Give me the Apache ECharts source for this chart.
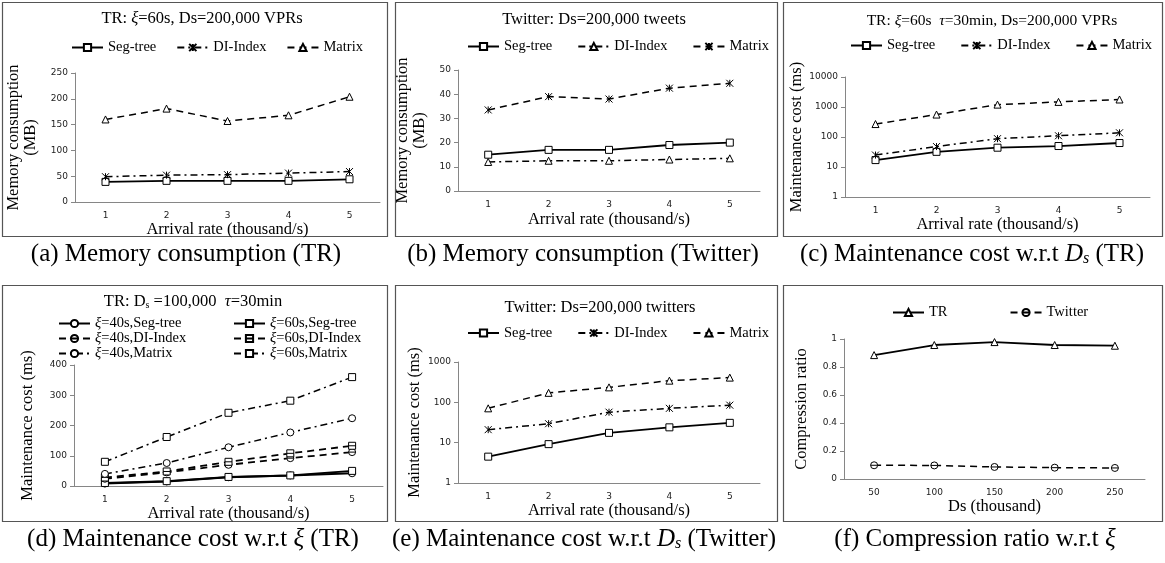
<!DOCTYPE html>
<html>
<head>
<meta charset="utf-8">
<script src="https://cdn.jsdelivr.net/npm/echarts@6/dist/echarts.min.js"></script>
<style>
html,body{margin:0;padding:0;background:#fff}
#main{width:1165px;height:563px}
</style>
</head>
<body>
<div id="main"></div>
<script>
// x categories
var rateCats = ['1', '2', '3', '4', '5'];
var dsCats = ['50', '100', '150', '200', '250'];

// (a) memory consumption, TR (MB)
var memTRSeg = [39, 41, 41, 41, 44];
var memTRDI = [49, 52, 53, 56, 59];
var memTRMatrix = [160, 181, 157, 168, 204];

// (b) memory consumption, Twitter (MB)
var memTwSeg = [15, 17, 17, 19, 20];
var memTwDI = [12, 12.5, 12.5, 13, 13.5];
var memTwMatrix = [33.5, 39, 38, 42.5, 44.5];

// (c) maintenance cost, TR (ms, log)
var mcTRSeg = [17, 32, 44, 50, 63];
var mcTRDI = [25, 48, 88, 110, 138];
var mcTRMatrix = [270, 560, 1200, 1480, 1780];

// (d) maintenance cost w.r.t xi, TR (ms)
var xi40Seg = [8, 15, 29, 35, 42];
var xi60Seg = [10, 16, 30, 35, 50];
var xi40DI = [24, 45, 70, 92, 112];
var xi60DI = [28, 48, 80, 108, 133];
var xi40Matrix = [40, 76, 128, 177, 224];
var xi60Matrix = [80, 162, 242, 282, 360];

// (e) maintenance cost, Twitter (ms, log)
var mcTwSeg = [4.5, 9.2, 17.5, 24, 31];
var mcTwDI = [21, 29.5, 57, 71, 85];
var mcTwMatrix = [71, 172, 235, 345, 410];

// (f) compression ratio
var crTR = [0.885, 0.957, 0.978, 0.957, 0.952];
var crTw = [0.098, 0.097, 0.086, 0.081, 0.079];

var SERIF = '"Liberation Serif", "Times New Roman", serif';
var SANS = '"DejaVu Sans", Verdana, sans-serif';
var AXC = '#868686';

var SQ = 'rect', TRI = 'triangle', CIR = 'circle';
var AST = 'path://M0,0L10,10M0,10L10,0M5,0L5,10';
var CIRBAR = 'path://M0,5A5,5,0,1,1,10,5A5,5,0,1,1,0,5ZM0,5L10,5';
var SQBAR = 'path://M0,0L10,0L10,10L0,10ZM0,5L10,5';
var SOLID = 'solid', DASH = [7, 5], DASHDOT = [7, 4, 2, 4];

var chart = echarts.init(document.getElementById('main'));

var grids = [
  {left: 75, top: 73, width: 305, height: 129},
  {left: 458, top: 70, width: 302, height: 121},
  {left: 845, top: 77, width: 305, height: 120},
  {left: 74, top: 365, width: 309, height: 121},
  {left: 458, top: 362, width: 302, height: 121},
  {left: 844, top: 339, width: 301, height: 140}
];

function xAx(i, cats, name, gap) {
  return {
    type: 'category', gridIndex: i, data: cats, boundaryGap: true,
    name: name, nameLocation: 'middle', nameGap: gap,
    nameTextStyle: {fontFamily: SERIF, fontSize: 16.5, color: '#000'},
    axisLine: {lineStyle: {color: AXC, width: 1}},
    axisTick: {length: 4, lineStyle: {color: AXC}},
    axisLabel: {fontFamily: SANS, fontSize: 9, color: '#222', margin: 9},
    splitLine: {show: false}
  };
}

function yAx(i, type, min, max, interval, name, gap) {
  var ax = {
    type: type, gridIndex: i, min: min, max: max,
    name: name, nameLocation: 'middle', nameGap: gap,
    nameTextStyle: {fontFamily: SERIF, fontSize: 16.5, color: '#000', lineHeight: 17},
    axisLine: {show: true, lineStyle: {color: AXC, width: 1}},
    axisTick: {show: true, length: 4, lineStyle: {color: AXC}},
    axisLabel: {fontFamily: SANS, fontSize: 9, color: '#222', margin: 7},
    splitLine: {show: false}
  };
  if (type === 'log') {
    ax.logBase = 10;
    ax.axisLabel.formatter = function (v) { return String(Math.round(v)); };
  } else {
    ax.interval = interval;
  }
  return ax;
}

function ln(name, i, data, sym, dash, width) {
  return {
    name: name, type: 'line', xAxisIndex: i, yAxisIndex: i, data: data,
    symbol: sym, symbolSize: 7, showAllSymbol: true, animation: false,
    itemStyle: {color: '#fff', borderColor: '#000', borderWidth: 1},
    lineStyle: {color: '#000', width: width || 1.5, type: dash}
  };
}

function lg(names, left, top, gap, orient) {
  return {
    data: names, left: left, top: top, orient: orient || 'horizontal',
    itemWidth: 31, itemHeight: 9, itemGap: gap, selectedMode: false,
    textStyle: {fontFamily: SERIF, fontSize: 14.5, color: '#000', lineHeight: 15,
      rich: {i: {fontFamily: SERIF, fontSize: 14.5, fontStyle: 'italic', lineHeight: 15}}},
    formatter: function (n) {
      var t = n.split('#')[1];
      return t.charAt(0) === 'ξ' ? '{i|ξ}' + t.slice(1) : t;
    }
  };
}

function box(x1, y1, x2, y2) {
  return {type: 'rect', silent: true, z: 0,
    shape: {x: x1 + 0.5, y: y1 + 0.5, width: x2 - x1, height: y2 - y1},
    style: {fill: 'none', stroke: '#555', lineWidth: 1.2}};
}

var titleRich = {
  i: {fontFamily: SERIF, fontSize: 16.5, fontStyle: 'italic'},
  sub: {fontFamily: SERIF, fontSize: 10, verticalAlign: 'bottom', lineHeight: 10}
};
var titleRichSm = {
  i: {fontFamily: SERIF, fontSize: 15.5, fontStyle: 'italic'}
};
var capRich = {
  i: {fontFamily: SERIF, fontSize: 25, fontStyle: 'italic'},
  sub: {fontFamily: SERIF, fontSize: 16, fontStyle: 'italic', verticalAlign: 'bottom', lineHeight: 14}
};

function txt(x, y, text, size, rich) {
  return {type: 'text', x: x, y: y, silent: true, z: 10,
    style: {text: text, fontFamily: SERIF, fontSize: size, fill: '#000',
      align: 'center', verticalAlign: 'middle', rich: rich}};
}

var option = {
  backgroundColor: '#fff',
  animation: false,
  grid: grids,
  xAxis: [
    xAx(0, rateCats, 'Arrival rate (thousand/s)', 18),
    xAx(1, rateCats, 'Arrival rate (thousand/s)', 20),
    xAx(2, rateCats, 'Arrival rate (thousand/s)', 18),
    xAx(3, rateCats, 'Arrival rate (thousand/s)', 16),
    xAx(4, rateCats, 'Arrival rate (thousand/s)', 17),
    xAx(5, dsCats, 'Ds (thousand)', 16)
  ],
  yAxis: [
    yAx(0, 'value', 0, 250, 50, 'Memory consumption\n(MB)', 36),
    yAx(1, 'value', 0, 50, 10, 'Memory consumption\n(MB)', 30),
    yAx(2, 'log', 1, 10000, null, 'Maintenance cost (ms)', 33),
    yAx(3, 'value', 0, 400, 100, 'Maintenance cost (ms)', 38),
    yAx(4, 'log', 1, 1000, null, 'Maintenance cost (ms)', 35),
    yAx(5, 'value', 0, 1, 0.2, 'Compression ratio', 34)
  ],
  legend: [
    lg(['a#Seg-tree', 'a#DI-Index', 'a#Matrix'], 66, 35, 20),
    lg(['b#Seg-tree', 'b#DI-Index', 'b#Matrix'], 462, 34, 25),
    lg(['c#Seg-tree', 'c#DI-Index', 'c#Matrix'], 845, 33, 25),
    lg(['d#ξ=40s,Seg-tree', 'd#ξ=40s,DI-Index', 'd#ξ=40s,Matrix'], 53, 311, 0, 'vertical'),
    lg(['d#ξ=60s,Seg-tree', 'd#ξ=60s,DI-Index', 'd#ξ=60s,Matrix'], 228, 311, 0, 'vertical'),
    lg(['e#Seg-tree', 'e#DI-Index', 'e#Matrix'], 462, 320.5, 25),
    lg(['f#TR', 'f#Twitter'], 887, 300, 62)
  ],
  series: [
    ln('a#Seg-tree', 0, memTRSeg, SQ, SOLID, 1.8),
    ln('a#DI-Index', 0, memTRDI, AST, DASHDOT),
    ln('a#Matrix', 0, memTRMatrix, TRI, DASH),

    ln('b#Seg-tree', 1, memTwSeg, SQ, SOLID, 1.8),
    ln('b#DI-Index', 1, memTwDI, TRI, DASHDOT),
    ln('b#Matrix', 1, memTwMatrix, AST, DASH),

    ln('c#Seg-tree', 2, mcTRSeg, SQ, SOLID, 1.8),
    ln('c#DI-Index', 2, mcTRDI, AST, DASHDOT),
    ln('c#Matrix', 2, mcTRMatrix, TRI, DASH),

    ln('d#ξ=40s,Seg-tree', 3, xi40Seg, CIR, SOLID, 2),
    ln('d#ξ=60s,Seg-tree', 3, xi60Seg, SQ, SOLID, 2),
    ln('d#ξ=40s,DI-Index', 3, xi40DI, CIRBAR, DASH, 1.8),
    ln('d#ξ=60s,DI-Index', 3, xi60DI, SQBAR, DASH, 1.8),
    ln('d#ξ=40s,Matrix', 3, xi40Matrix, CIR, DASHDOT),
    ln('d#ξ=60s,Matrix', 3, xi60Matrix, SQ, DASHDOT),

    ln('e#Seg-tree', 4, mcTwSeg, SQ, SOLID, 1.8),
    ln('e#DI-Index', 4, mcTwDI, AST, DASHDOT),
    ln('e#Matrix', 4, mcTwMatrix, TRI, DASH),

    ln('f#TR', 5, crTR, TRI, SOLID, 1.8),
    ln('f#Twitter', 5, crTw, CIRBAR, DASH)
  ],
  graphic: [
    box(2, 2, 387, 236),
    box(395, 2, 777, 236),
    box(783, 2, 1162, 236),
    box(2, 285, 387, 521),
    box(395, 285, 777, 521),
    box(783, 285, 1162, 521),

    txt(202, 19, 'TR: {i|ξ}=60s, Ds=200,000 VPRs', 16.5, titleRich),
    txt(594, 20, 'Twitter: Ds=200,000 tweets', 16.5, titleRich),
    txt(992, 21, 'TR: {i|ξ}=60s  {i|τ}=30min, Ds=200,000 VPRs', 15.5, titleRichSm),
    txt(193, 302, 'TR: D{sub|s} =100,000  {i|τ}=30min', 16.5, titleRich),
    txt(600, 308, 'Twitter: Ds=200,000 twitters', 16.5, titleRich),

    txt(186, 254, '(a) Memory consumption (TR)', 25, capRich),
    txt(583, 254, '(b) Memory consumption (Twitter)', 25, capRich),
    txt(972, 254, '(c) Maintenance cost w.r.t {i|D}{sub|s} (TR)', 25, capRich),
    txt(193, 539, '(d) Maintenance cost w.r.t {i|ξ} (TR)', 25, capRich),
    txt(584, 539, '(e) Maintenance cost w.r.t {i|D}{sub|s} (Twitter)', 25, capRich),
    txt(975, 539, '(f) Compression ratio w.r.t {i|ξ}', 25, capRich)
  ]
};

chart.setOption(option);
</script>
</body>
</html>
